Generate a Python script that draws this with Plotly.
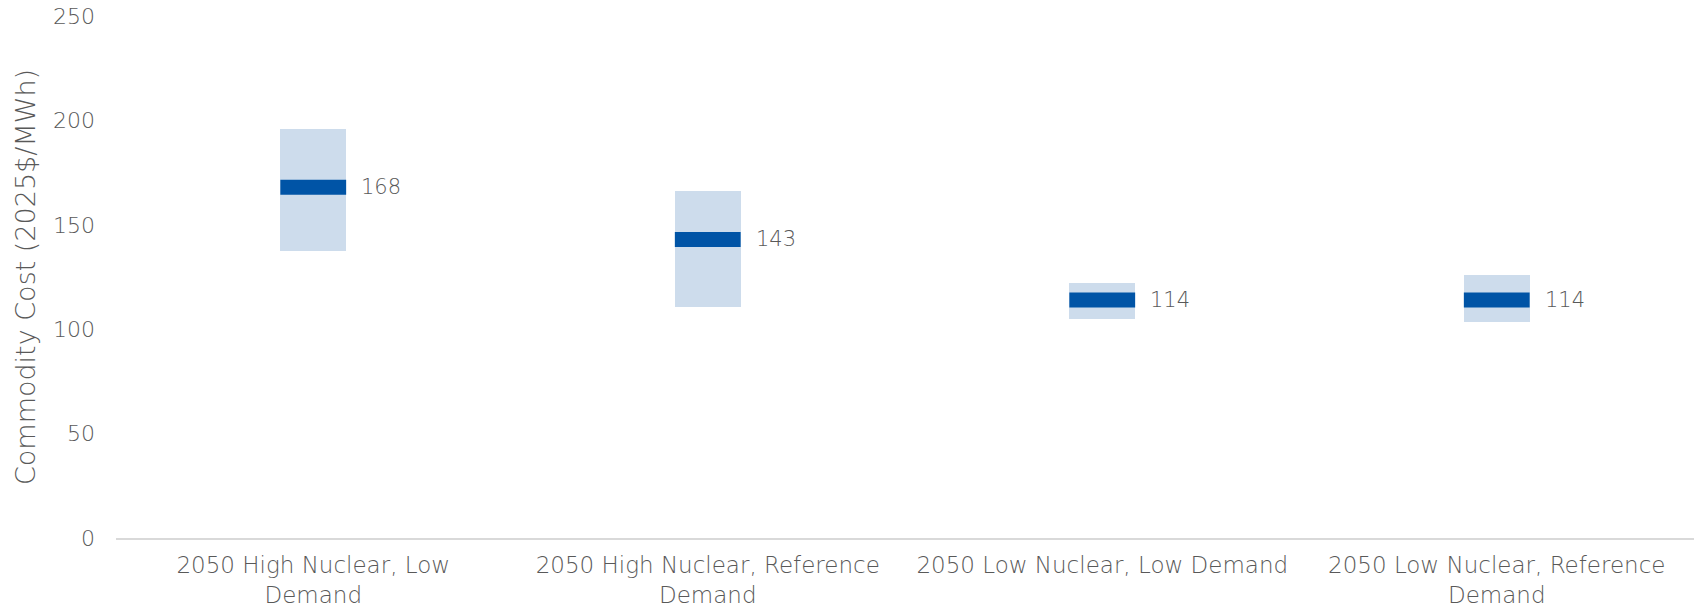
import plotly.graph_objects as go

# Scenario categories (two-line tick labels)
scenarios = [
    "2050 High Nuclear, Low<br>Demand",
    "2050 High Nuclear, Reference<br>Demand",
    "2050 Low Nuclear, Low Demand",
    "2050 Low Nuclear, Reference<br>Demand",
]
# Commodity cost range (2025$/MWh) and central estimate
range_low = [137.6, 110.8, 104.9, 103.4]
range_high = [195.9, 166.2, 122.1, 126.0]
central = [168, 143, 114, 114]

y_ticks = [0, 50, 100, 150, 200, 250]

FONT = "DejaVu Sans"
WEIGHT = 200
TEXT_COLOR = "#595959"
RANGE_COLOR = "#CDDCEC"
CENTRAL_COLOR = "#0054A6"

fig = go.Figure()

# Range boxes as floating bars
fig.add_trace(go.Bar(
    x=scenarios,
    y=[h - l for h, l in zip(range_high, range_low)],
    base=range_low,
    width=0.167,
    marker=dict(color=RANGE_COLOR, line=dict(width=0)),
    hoverinfo="skip",
    showlegend=False,
))

# Central estimate as a thick horizontal dash (line-ew spans 1.41 * size)
fig.add_trace(go.Scatter(
    x=scenarios,
    y=central,
    mode="markers",
    marker=dict(symbol="line-ew", size=47,
                line=dict(color=CENTRAL_COLOR, width=15)),
    hoverinfo="skip",
    showlegend=False,
))

# Value labels to the right of each dash
for s, v in zip(scenarios, central):
    fig.add_annotation(
        x=s, y=v, text=str(v), showarrow=False,
        xanchor="left", yanchor="middle", xshift=46,
        font=dict(family=FONT, size=21, color=TEXT_COLOR, weight=WEIGHT),
    )

fig.update_layout(
    width=1696, height=611,
    margin=dict(l=116, r=2, t=16, b=73),
    paper_bgcolor="white", plot_bgcolor="white",
    font=dict(family=FONT, size=22, color=TEXT_COLOR, weight=WEIGHT),
    bargap=0,
)

fig.update_xaxes(
    type="category", automargin=False,
    showline=True, linecolor="#D9D9D9", linewidth=2,
    showgrid=False, zeroline=False, ticks="",
    ticklabelstandoff=5,
    tickfont=dict(family=FONT, size=23, color=TEXT_COLOR, weight=WEIGHT),
)

fig.update_yaxes(
    range=[0, 250.01], tickvals=y_ticks, automargin=False,
    showgrid=False, zeroline=False, showline=False, ticks="",
    ticklabelstandoff=20, ticklabeloverflow="allow",
    tickfont=dict(family=FONT, size=22, color=TEXT_COLOR, weight=WEIGHT),
    title=dict(text="Commodity Cost (2025$/MWh)", standoff=9,
               font=dict(family=FONT, size=27, color=TEXT_COLOR, weight=WEIGHT)),
)

fig.write_html("out.html")
